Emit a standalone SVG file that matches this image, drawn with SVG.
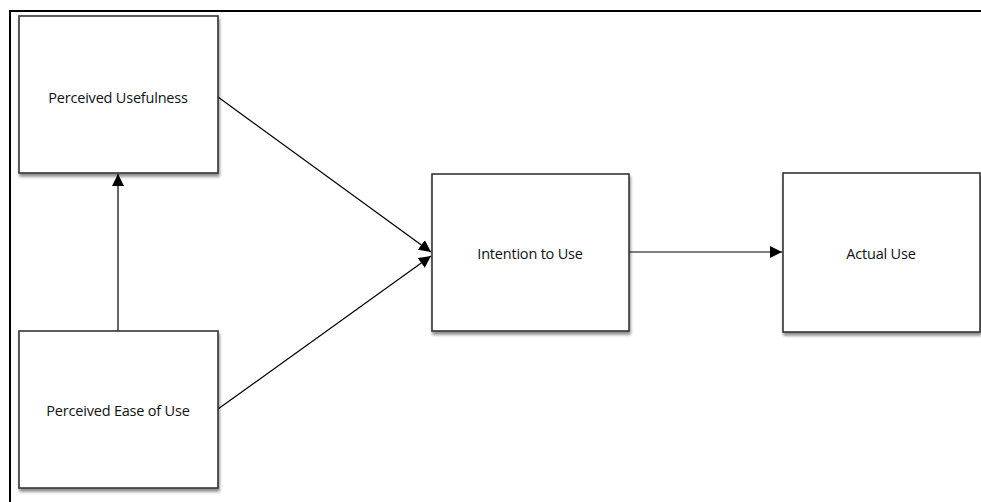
<svg xmlns="http://www.w3.org/2000/svg" width="981" height="502" viewBox="0 0 981 502">
  <defs>
    <filter id="shadow" x="-10%" y="-10%" width="125%" height="130%">
      <feDropShadow dx="1" dy="3" stdDeviation="1.8" flood-color="#000" flood-opacity="0.45"/>
    </filter>
    <marker id="arrow" viewBox="0 0 12 12" refX="12" refY="6" markerWidth="12" markerHeight="12" markerUnits="userSpaceOnUse" orient="auto">
      <path d="M0,0 L12,6 L0,12 z" fill="#000"/>
    </marker>
  </defs>
  <style>
    .box { fill: #ffffff; stroke: #333333; stroke-width: 1.6; filter: url(#shadow); }
    .label { font-family: "Open Sans", "Liberation Sans", sans-serif; font-size: 14.5px; fill: #111; text-anchor: middle; dominant-baseline: central; letter-spacing: -0.2px; }
    .edge { stroke: #000; stroke-width: 1.2; fill: none; marker-end: url(#arrow); }
  </style>
  <rect width="981" height="502" fill="#ffffff"/>
  <!-- frame -->
  <path d="M10,502 L10,11 L981,11" fill="none" stroke="#000" stroke-width="2"/>

  <g id="connectors">
    <line class="edge" x1="118" y1="331" x2="118" y2="174"/>
    <line class="edge" x1="218" y1="97" x2="431" y2="252"/>
    <line class="edge" x1="218" y1="409" x2="431" y2="256"/>
    <line class="edge" x1="629" y1="252" x2="782" y2="252"/>
  </g>

  <g id="perceived-usefulness">
    <rect class="box" x="19" y="16" width="199" height="157"/>
    <text class="label" x="118" y="97">Perceived Usefulness</text>
  </g>
  <g id="perceived-ease-of-use">
    <rect class="box" x="19" y="331" width="199" height="157"/>
    <text class="label" x="118" y="410">Perceived Ease of Use</text>
  </g>
  <g id="intention-to-use">
    <rect class="box" x="432" y="174" width="197" height="157"/>
    <text class="label" x="530" y="253">Intention to Use</text>
  </g>
  <g id="actual-use">
    <rect class="box" x="783" y="173" width="197" height="159"/>
    <text class="label" x="881" y="253">Actual Use</text>
  </g>
</svg>
